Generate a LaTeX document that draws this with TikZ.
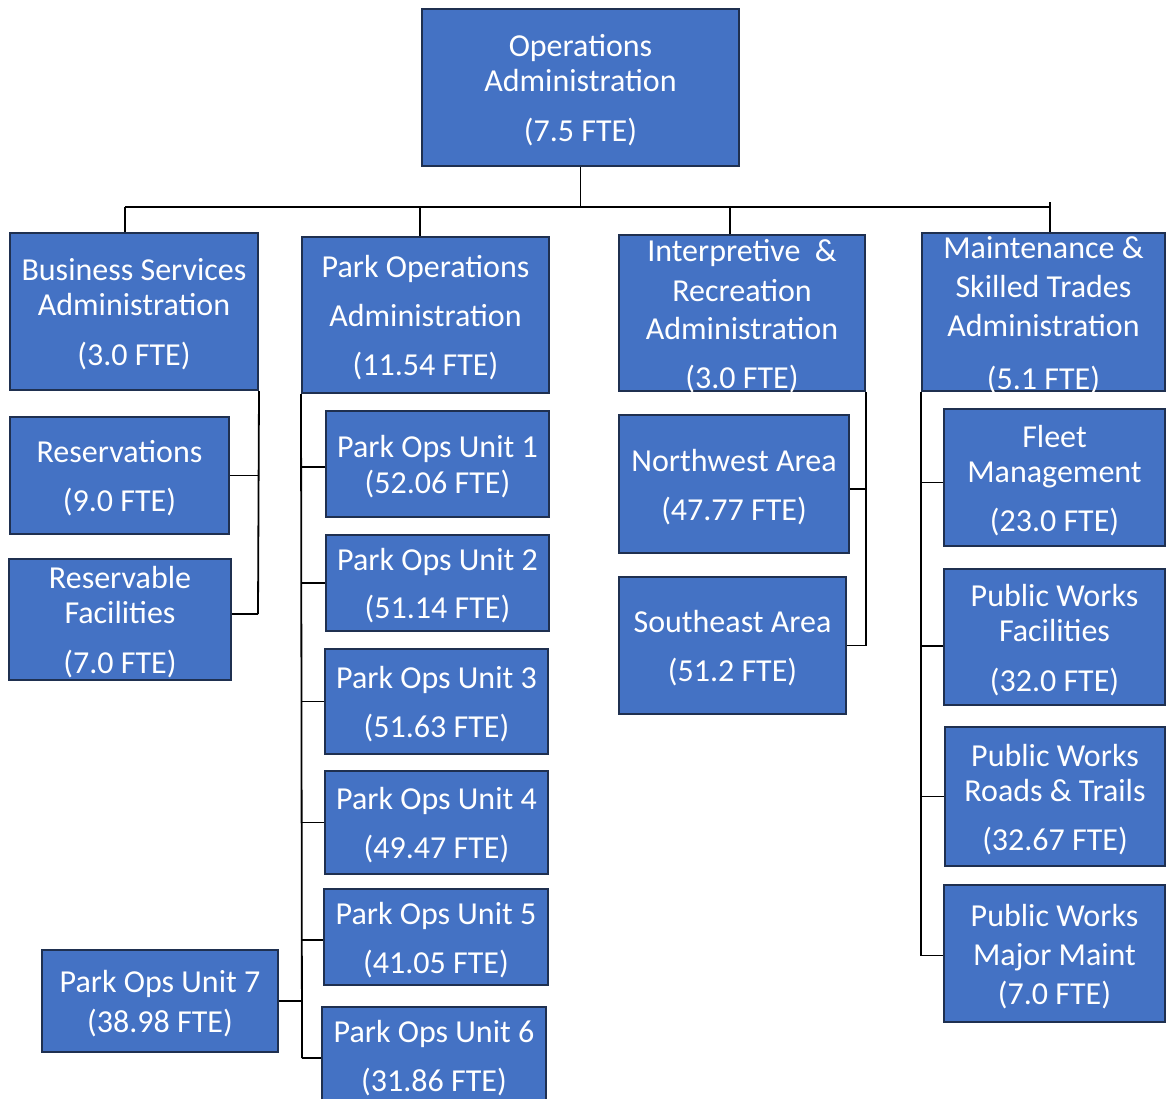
\documentclass[tikz,border=0pt]{standalone}
\usepackage{fontspec}
\setmainfont{Carlito}
\definecolor{boxblue}{HTML}{4472C4}
\definecolor{boxedge}{HTML}{1F3050}
\tikzset{
  orgbox/.style={draw=boxedge, fill=boxblue, line width=2pt, inner sep=0pt},
  orgtext/.style={text=white, align=center, inner sep=0pt, font=\fontsize{32}{35}\selectfont, yshift=-3pt},
  conn/.style={draw=black, line width=1.8pt},
}
% \bx{name}{x1}{y1}{x2}{y2}{text}
\newcommand\bx[6]{\node[orgbox, minimum width={(#4-#2)*1pt}, minimum height={(#5-#3)*1pt},
  label={[orgtext]center:{#6}}] (#1) at ({(#2+#4)/2},{(#3+#5)/2}) {};}
\begin{document}
\begin{tikzpicture}[x=1pt,y=-1pt]
\useasboundingbox (0,0) rectangle (1167,1099);
\clip (0,0) rectangle (1167,1099);
% top
\bx{oa}{422}{9}{739}{166}{Operations\\Administration\\[15pt](7.5 FTE)}
% second level
\bx{bs}{10}{233}{258}{390}{Business Services\\Administration\\[15pt](3.0 FTE)}
\bx{po}{302}{237}{549}{393}{Park Operations\\[14pt]Administration\\[14pt](11.54 FTE)}
\bx{ia}{619}{235}{865}{391}{Interpretive~ \&\\[5pt]Recreation\\[3pt]Administration\\[14pt](3.0 FTE)}
\bx{ma}{922}{233}{1165}{391}{Maintenance \&\\[4pt]Skilled Trades\\[4pt]Administration\\[18pt](5.1 FTE)}
% business column
\bx{res}{10}{417}{229}{534}{Reservations\\[14pt](9.0 FTE)}
\bx{rf}{9}{559}{231}{680}{Reservable\\Facilities\\[15pt](7.0 FTE)}
% park ops column
\bx{u1}{326}{411}{549}{517}{Park Ops Unit 1\\[1pt](52.06 FTE)}
\bx{u2}{326}{535}{549}{631}{Park Ops Unit 2\\[13pt](51.14 FTE)}
\bx{u3}{325}{649}{548}{754}{Park Ops Unit 3\\[14pt](51.63 FTE)}
\bx{u4}{325}{771}{548}{874}{Park Ops Unit 4\\[14pt](49.47 FTE)}
\bx{u5}{324}{889}{548}{985}{Park Ops Unit 5\\[14pt](41.05 FTE)}
\bx{u6}{322}{1007}{546}{1103}{Park Ops Unit 6\\[14pt](31.86 FTE)}
\bx{u7}{42}{950}{278}{1052}{Park Ops Unit 7\\[5pt](38.98 FTE)}
% interpretive column
\bx{nw}{619}{415}{849}{553}{Northwest Area\\[14pt](47.77 FTE)}
\bx{se}{619}{577}{846}{714}{Southeast Area\\[14pt](51.2 FTE)}
% maintenance column
\bx{fm}{944}{409}{1165}{546}{Fleet\\Management\\[14pt](23.0 FTE)}
\bx{pwf}{944}{569}{1165}{705}{Public Works\\Facilities\\[15pt](32.0 FTE)}
\bx{pwr}{945}{727}{1165}{866}{Public Works\\Roads \& Trails\\[14pt](32.67 FTE)}
\bx{pwm}{944}{885}{1165}{1022}{Public Works\\[4pt]Major Maint\\[4pt](7.0 FTE)}
% bus
\coordinate (busL) at (125,207);
\coordinate (busR) at (1050,207);
\coordinate (dPO) at (420,207);
\coordinate (dIA) at (730,207);
\coordinate (busTop) at (1050,202);
\draw[conn] (busL) -- (busR);
\draw[conn] (busR) -- (busTop);
\draw[conn] (oa.south) -- (oa.south |- busL);
\draw[conn] (busL) -- (busL |- bs.north);
\draw[conn] (dPO) -- (dPO |- po.north);
\draw[conn] (dIA) -- (dIA |- ia.north);
\draw[conn] (busR) -- (busR |- ma.north);
% business services
\coordinate (bsEnd) at (258,614);
\draw[conn] (bs.south east) -- (bsEnd);
\draw[conn] (res.east) -- (res.east -| bs.south east);
\draw[conn] (rf.east |- bsEnd) -- (bsEnd);
% park operations
\coordinate (poEnd) at (302,1058);
\draw[conn] (po.south west) -- (poEnd);
\foreach \n/\s in {u1/-3,u2/0,u3/0,u4/0,u5/-3}{\draw[conn] ([yshift=\s pt]\n.west) -- ([yshift=\s pt]\n.west -| po.south west);}
\draw[conn] (u6.west |- poEnd) -- (poEnd);
\draw[conn] (u7.east) -- (u7.east -| po.south west);
% interpretive
\draw[conn] (ia.south east) -- (ia.south east |- se.east);
\draw[conn] ([yshift=-5pt]nw.east) -- ([yshift=-5pt]nw.east -| ia.south east);
\draw[conn] (se.east) -- (se.east -| ia.south east);
% maintenance
\coordinate (maEnd) at ([yshift=-2pt]pwm.west -| ma.south west);
\draw[conn] (ma.south west) -- (maEnd);
\foreach \n/\s in {fm/-5,pwf/-9,pwr/0}{\draw[conn] ([yshift=\s pt]\n.west) -- ([yshift=\s pt]\n.west -| ma.south west);}
\draw[conn] ([yshift=-2pt]pwm.west) -- (maEnd);
\end{tikzpicture}
\end{document}
